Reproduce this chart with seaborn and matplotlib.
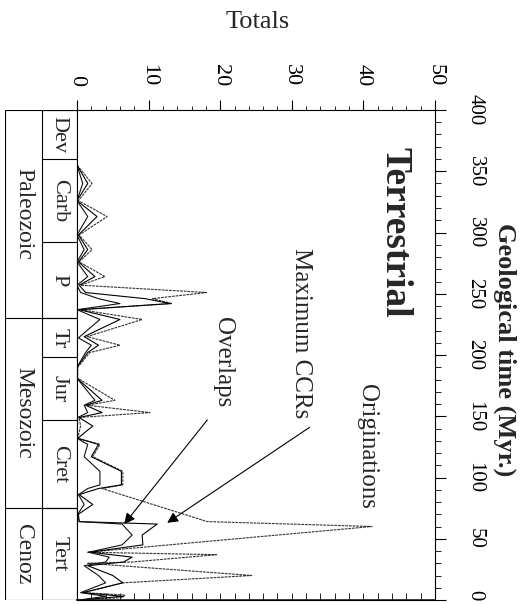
import pandas as pd
import matplotlib
matplotlib.use('Agg')
import matplotlib.pyplot as plt
import seaborn as sns
from matplotlib.ticker import MultipleLocator

sns.set_theme(style='white')
plt.rcParams['font.family'] = ['Liberation Serif', 'DejaVu Serif']

# Originations per time bin (Myr ago)
orig_time = [355, 340, 326, 313, 298, 286, 276, 264, 257, 251, 246, 242, 237, 229, 215, 208, 202, 190, 181, 163,
             159, 153, 149, 142, 132, 127, 117, 105, 94, 91, 64, 60, 39, 37, 31, 30, 20, 14, 6, 4, 2, 0]
orig_vals = [0, 2.1, 0.2, 4.2, 0.3, 2.1, 0.3, 3.9, 0.5, 18.1, 10.5, 13.3, 0.5, 9.1, 1.4, 6.0, 1.8, 0.1, 0.1, 5.3,
             1.4, 10.2, 0.3, 0.5, 0.1, 3.2, 2.2, 6.4, 6.4, 3.5, 18.2, 41.2, 1.5, 19.5, 7.7, 1.5, 24.4, 6.4, 0.9, 6.7, 6.4, 0.5]

# Maximum CCRs
ccr_time = [355, 340, 326, 313, 298, 286, 276, 264, 257, 251, 246, 242, 237, 229, 215, 208, 202, 190, 181, 163,
            159, 153, 149, 142, 132, 127, 117, 105, 94, 91, 86, 78, 70, 64, 62, 53, 45, 39, 35, 31, 28, 20, 14, 6, 3, 0]
ccr_vals = [0, 1.5, 0, 2.8, 0.2, 1.5, 0.2, 2.5, 0.3, 1.2, 9.5, 13.0, 0.3, 6.0, 1.0, 3.0, 1.5, 0, 0, 3.5,
            1.2, 3.5, 0.3, 2.2, 0.1, 3.0, 2.0, 6.2, 6.2, 3.0, 0.3, 2.2, 0.2, 0.3, 11.2, 9.1, 9.2, 1.8, 7.7, 6.5,
            1.5, 5.0, 6.4, 0.8, 6.4, 0.4]

# Overlaps
ovl_time = [355, 340, 326, 313, 298, 286, 276, 264, 257, 251, 246, 242, 237, 229, 214, 208, 202, 190, 181, 163,
            159, 153, 149, 132, 127, 117, 105, 94, 91, 86, 78, 70, 64, 62, 53, 45, 39, 35, 31, 28, 20, 14, 6, 3, 0]
ovl_vals = [0, 0.8, 0, 1.5, 0, 1.0, 0, 1.5, 0, 0.5, 3.0, 6.0, 0, 3.2, 0.2, 2.0, 1.2, 0, 0, 2.5,
            1.0, 1.5, 0.1, 0, 1.5, 1.0, 3.2, 3.2, 1.5, 0.2, 1.0, 0.1, 0.3, 6.3, 7.7, 6.3, 1.6, 4.5, 4.0, 1.0,
            3.0, 4.0, 0.5, 4.0, 0.3]

period_names = ['Dev', 'Carb', 'P', 'Tr', 'Jur', 'Cret', 'Tert']
period_edges = [400, 360, 292, 230, 198, 147, 75, 0]
era_names = ['Paleozoic', 'Mesozoic', 'Cenoz']
era_edges = [400, 230, 75, 0]

total_ticks = [0, 10, 20, 30, 40, 50]
time_ticks = [0, 50, 100, 150, 200, 250, 300, 350, 400]

df = pd.concat([
    pd.DataFrame({'time': orig_time, 'total': orig_vals, 'series': 'Originations'}),
    pd.DataFrame({'time': ccr_time, 'total': ccr_vals, 'series': 'Maximum CCRs'}),
    pd.DataFrame({'time': ovl_time, 'total': ovl_vals, 'series': 'Overlaps'}),
], ignore_index=True)

fig = plt.figure(figsize=(5.25, 6.04), dpi=100)
ax = fig.add_axes([77 / 525, 4 / 604, 358 / 525, 490 / 604])

sns.lineplot(data=df, x='total', y='time', hue='series', style='series', orient='y',
             sort=False, estimator=None, legend=False, ax=ax, linewidth=0.8,
             palette={'Originations': '#333333', 'Maximum CCRs': 'black', 'Overlaps': '#111111'},
             dashes={'Originations': (2.5, 0.8), 'Maximum CCRs': '', 'Overlaps': ''})

ax.set_xlim(0, 50)
ax.set_ylim(0, 400)
ax.set_xlabel('')
ax.set_ylabel('')
for s in ax.spines.values():
    s.set_color('black')
    s.set_linewidth(0.8)

# totals axis on top
ax.xaxis.set_ticks_position('top')
ax.set_xticks(total_ticks)
ax.set_xticklabels([str(v) for v in total_ticks], rotation=-90, fontsize=16)
ax.xaxis.set_minor_locator(MultipleLocator(2))
ax.tick_params(axis='x', which='major', direction='out', length=7, width=0.8, pad=10, colors='black')
ax.tick_params(axis='x', which='minor', direction='out', length=3, width=0.6, colors='black')

# time axis on right
ax.yaxis.set_ticks_position('right')
ax.set_yticks(time_ticks)
ax.set_yticklabels([str(v) for v in time_ticks], rotation=-90, fontsize=15)
ax.yaxis.set_minor_locator(MultipleLocator(10))
ax.tick_params(axis='y', which='major', direction='out', length=8, width=0.8, pad=14, colors='black')
ax.tick_params(axis='y', which='minor', direction='out', length=4, width=0.6, colors='black')
for lab in ax.get_yticklabels():
    lab.set_verticalalignment('center')
ax.get_yticklabels()[0].set_verticalalignment('bottom')

# inward ticks on bottom
sec = ax.secondary_xaxis('bottom')
sec.xaxis.set_major_locator(MultipleLocator(2))
sec.tick_params(direction='in', length=5, width=0.6, labelbottom=False, colors='black')

fig.text(258 / 525, 1 - 22 / 604, 'Totals', ha='center', va='center', fontsize=19)
fig.text(505 / 525, 1 - 350 / 604, 'Geological time (Myr.)', ha='center', va='center',
         rotation=-90, fontsize=19, fontweight='bold')

ax.text(44.4, 300, 'Terrestrial', rotation=-90, ha='center', va='center', fontsize=27, fontweight='bold')
ax.text(40.5, 125, 'Originations', rotation=-90, ha='center', va='center', fontsize=18)
ax.text(31.3, 218, 'Maximum CCRs', rotation=-90, ha='center', va='center', fontsize=18)
ax.text(20.4, 194, 'Overlaps', rotation=-90, ha='center', va='center', fontsize=18)

arrow = dict(arrowstyle='-|>', color='black', lw=0.8, mutation_scale=16, shrinkA=0, shrinkB=0)
ax.annotate('', xy=(6.6, 62), xytext=(18.2, 147), arrowprops=arrow)
ax.annotate('', xy=(12.6, 63), xytext=(32.5, 141), arrowprops=arrow)

# geological time scale boxes
bx = fig.add_axes([5 / 525, 4 / 604, 72 / 525, 490 / 604])
bx.set_xlim(0, 1)
bx.set_ylim(0, 400)
bx.axis('off')
split = 0.51
bx.vlines([0, split, 1], 0, 400, color='black', lw=0.8)
bx.hlines(period_edges, split, 1, color='black', lw=0.8)
bx.hlines(era_edges, 0, 1, color='black', lw=0.8)
for name, top, bot in zip(period_names, period_edges[:-1], period_edges[1:]):
    bx.text((split + 1) / 2, (top + bot) / 2, name, rotation=-90, ha='center', va='center', fontsize=16)
for name, top, bot in zip(era_names, era_edges[:-1], era_edges[1:]):
    bx.text(split / 2, (top + bot) / 2, name, rotation=-90, ha='center', va='center', fontsize=17)

fig.savefig('out.png', dpi=100)
